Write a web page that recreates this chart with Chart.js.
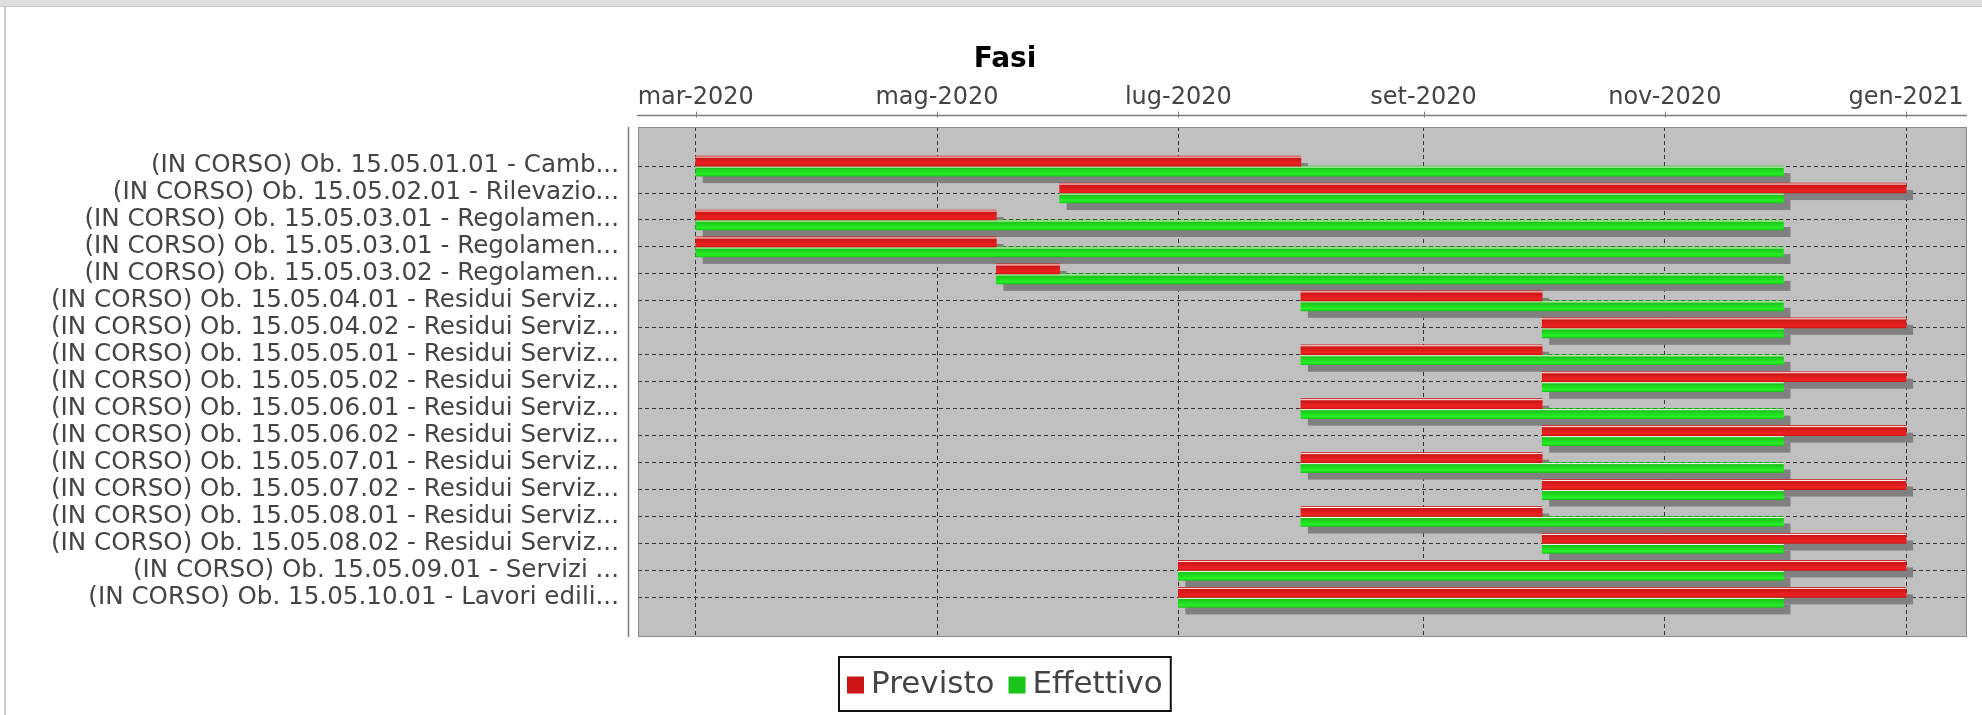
<!DOCTYPE html>
<html>
<head>
<meta charset="utf-8">
<script src="https://cdn.jsdelivr.net/npm/chart.js@4/dist/chart.umd.min.js"></script>
<style>
html,body{margin:0;padding:0;background:#fff;overflow:hidden;width:1982px;height:715px;}
#frameTop{position:absolute;left:0;top:0;width:1982px;height:6px;background:#dedede;border-bottom:1px solid #c6c6c6;}
#frameLeft{position:absolute;left:4px;top:7px;width:2px;height:708px;background:#cbcbcb;}
#wrap{position:absolute;left:6px;top:8px;width:1998px;height:707px;}
</style>
</head>
<body>
<div id="frameTop"></div>
<div id="frameLeft"></div>
<div id="wrap"><canvas id="c" width="1998" height="707"></canvas></div>
<script>
// ---------------- data ----------------
const categories = [
  '(IN CORSO) Ob. 15.05.01.01 - Camb...',
  '(IN CORSO) Ob. 15.05.02.01 - Rilevazio...',
  '(IN CORSO) Ob. 15.05.03.01 - Regolamen...',
  '(IN CORSO) Ob. 15.05.03.01 - Regolamen...',
  '(IN CORSO) Ob. 15.05.03.02 - Regolamen...',
  '(IN CORSO) Ob. 15.05.04.01 - Residui Serviz...',
  '(IN CORSO) Ob. 15.05.04.02 - Residui Serviz...',
  '(IN CORSO) Ob. 15.05.05.01 - Residui Serviz...',
  '(IN CORSO) Ob. 15.05.05.02 - Residui Serviz...',
  '(IN CORSO) Ob. 15.05.06.01 - Residui Serviz...',
  '(IN CORSO) Ob. 15.05.06.02 - Residui Serviz...',
  '(IN CORSO) Ob. 15.05.07.01 - Residui Serviz...',
  '(IN CORSO) Ob. 15.05.07.02 - Residui Serviz...',
  '(IN CORSO) Ob. 15.05.08.01 - Residui Serviz...',
  '(IN CORSO) Ob. 15.05.08.02 - Residui Serviz...',
  '(IN CORSO) Ob. 15.05.09.01 - Servizi ...',
  '(IN CORSO) Ob. 15.05.10.01 - Lavori edili...'
];
const previstoStart = ['2020-03-01','2020-06-01','2020-03-01','2020-03-01','2020-05-16','2020-08-01','2020-10-01','2020-08-01','2020-10-01','2020-08-01','2020-10-01','2020-08-01','2020-10-01','2020-08-01','2020-10-01','2020-07-01','2020-07-01'];
const previstoEnd   = ['2020-08-01','2021-01-01','2020-05-16','2020-05-16','2020-06-01','2020-10-01','2021-01-01','2020-10-01','2021-01-01','2020-10-01','2021-01-01','2020-10-01','2021-01-01','2020-10-01','2021-01-01','2021-01-01','2021-01-01'];
const effettivoStart = ['2020-03-01','2020-06-01','2020-03-01','2020-03-01','2020-05-16','2020-08-01','2020-10-01','2020-08-01','2020-10-01','2020-08-01','2020-10-01','2020-08-01','2020-10-01','2020-08-01','2020-10-01','2020-07-01','2020-07-01'];
const effettivoEnd   = ['2020-12-01','2020-12-01','2020-12-01','2020-12-01','2020-12-01','2020-12-01','2020-12-01','2020-12-01','2020-12-01','2020-12-01','2020-12-01','2020-12-01','2020-12-01','2020-12-01','2020-12-01','2020-12-01','2020-12-01'];
const seriesNames = ['Previsto', 'Effettivo'];
const tickDates  = ['2020-03-01','2020-05-01','2020-07-01','2020-09-01','2020-11-01','2021-01-01'];
const tickLabels = ['mar-2020','mag-2020','lug-2020','set-2020','nov-2020','gen-2021'];
const chartTitle = 'Fasi';

// ---------------- helpers ----------------
const DAY = 86400000;
const ts = s => Date.parse(s + 'T00:00:00Z');
const FONT = '"DejaVu Sans", Verdana, sans-serif';
Chart.defaults.font.family = FONT;

const palette = [
  {base: 'rgb(204,22,22)', bright: 'rgb(238,34,34)'},
  {base: 'rgb(26,196,26)', bright: 'rgb(38,240,38)'}
];
const BAR = 10;

function gradientFill(dsIndex) {
  const p = palette[dsIndex];
  return (c) => {
    if (c.type !== 'data') return p.base;
    const chart = c.chart;
    let top = NaN, h = NaN;
    const el = c.element;
    if (el && isFinite(el.y) && isFinite(el.height) && el.height > 0) {
      top = el.y - el.height / 2; h = el.height;
    } else {
      const ys = chart.scales && chart.scales.y;
      if (ys && c.parsed && isFinite(c.parsed.y)) {
        const center = ys.getPixelForValue(c.parsed.y);
        top = center - BAR + dsIndex * BAR; h = BAR;
      }
    }
    if (!isFinite(top) || !isFinite(h)) return p.base;
    const g = chart.ctx.createLinearGradient(0, top, 0, top + h);
    g.addColorStop(0, p.base);
    g.addColorStop(0.1, '#fff4f0');
    g.addColorStop(0.2, p.base);
    g.addColorStop(0.8, p.bright);
    g.addColorStop(1, p.base);
    return g;
  };
}

function makeData(starts, ends) {
  return categories.map((_, i) => ({x: [ts(starts[i]), ts(ends[i])], y: i}));
}

// ---------------- plugins ----------------
const plotPlugin = {
  id: 'plotDecor',
  beforeDraw(chart) {
    const {ctx, chartArea: a} = chart;
    ctx.save();
    ctx.fillStyle = '#c0c0c0';
    ctx.fillRect(a.left, a.top, a.right - a.left, a.bottom - a.top);
    ctx.restore();
  },
  beforeDatasetsDraw(chart) {
    const ctx = chart.ctx;
    const a = chart.chartArea;
    ctx.save();
    ctx.beginPath();
    ctx.rect(a.left, a.top, a.right - a.left, a.bottom - a.top);
    ctx.clip();
    ctx.fillStyle = '#808080';
    chart.data.datasets.forEach((ds, di) => {
      const meta = chart.getDatasetMeta(di);
      meta.data.forEach(el => {
        const {x, y, base, height} = el.getProps(['x', 'y', 'base', 'height'], true);
        if (![x, y, base, height].every(isFinite)) return;
        const l = Math.min(x, base), r = Math.max(x, base);
        ctx.fillRect(l + 7, y - height / 2 + 7, r - l, height);
      });
    });
    ctx.restore();
  },
  afterDraw(chart) {
    const {ctx, chartArea: a} = chart;
    const xs = chart.scales.x;
    ctx.save();
    ctx.setLineDash([]);
    // plot outline
    ctx.strokeStyle = '#8a8a8a';
    ctx.lineWidth = 1;
    ctx.strokeRect(a.left + 0.5, a.top + 0.5, a.right - a.left - 1, a.bottom - a.top - 1);
    // date axis line + tick marks
    const ay = a.top - 11.5;
    ctx.strokeStyle = '#7c7c7c';
    ctx.lineWidth = 1.5;
    ctx.beginPath();
    ctx.moveTo(a.left - 1, ay);
    ctx.lineTo(a.right, ay);
    ctx.stroke();
    ctx.lineWidth = 1;
    xs.ticks.forEach(t => {
      const px = Math.round(xs.getPixelForValue(t.value)) + 0.5;
      ctx.beginPath();
      ctx.moveTo(px, ay - 4);
      ctx.lineTo(px, ay + 2);
      ctx.stroke();
    });
    // category axis line
    ctx.lineWidth = 1.5;
    ctx.beginPath();
    ctx.moveTo(a.left - 9.5, a.top);
    ctx.lineTo(a.left - 9.5, a.bottom);
    ctx.stroke();
    // legend
    ctx.font = '31px ' + FONT;
    ctx.textBaseline = 'middle';
    ctx.textAlign = 'left';
    const pad = 9, sq = 17, gap = 7, itemGap = 14;
    const items = chart.data.datasets.map((ds, i) => ({text: ds.label, color: palette[i].base, w: ctx.measureText(ds.label).width}));
    let total = pad * 2 + itemGap * (items.length - 1);
    items.forEach(it => total += sq + gap + it.w);
    const lx = Math.round(chart.width / 2 - total / 2);
    const ly = Math.round(a.bottom + 19);
    const lh = 56;
    ctx.strokeStyle = '#111';
    ctx.lineWidth = 2;
    ctx.strokeRect(lx + 1, ly + 1, total - 2, lh - 2);
    let cx = lx + pad;
    const cy = ly + lh / 2 + 1;
    items.forEach(it => {
      ctx.fillStyle = it.color;
      ctx.fillRect(cx, cy - sq / 2, sq, sq);
      cx += sq + gap;
      ctx.fillStyle = '#444';
      ctx.fillText(it.text, cx, cy);
      cx += it.w + itemGap;
    });
    ctx.restore();
  }
};

// ---------------- chart ----------------
const xMin = ts(tickDates[0]) - 14.6 * DAY;
const xMax = ts(tickDates[tickDates.length - 1]) + 15.4 * DAY;

const chart = new Chart(document.getElementById('c'), {
  type: 'bar',
  data: {
    datasets: [
      {label: seriesNames[0], data: makeData(previstoStart, previstoEnd), backgroundColor: gradientFill(0), borderWidth: 0, barThickness: BAR},
      {label: seriesNames[1], data: makeData(effettivoStart, effettivoEnd), backgroundColor: gradientFill(1), borderWidth: 0, barThickness: BAR}
    ]
  },
  options: {
    responsive: false,
    animation: false,
    devicePixelRatio: 1,
    indexAxis: 'y',
    layout: {padding: {left: 37, right: 37, top: 0, bottom: 78}},
    plugins: {
      legend: {display: false},
      tooltip: {enabled: false},
      title: {
        display: true, text: chartTitle, color: '#000',
        font: {size: 28, weight: 'bold', family: FONT},
        padding: {top: 35, bottom: 0}
      }
    },
    scales: {
      x: {
        type: 'linear', position: 'top', min: xMin, max: xMax, bounds: 'data', offset: false,
        afterBuildTicks: s => { s.ticks = tickDates.map(d => ({value: ts(d)})); },
        afterFit: s => { s.height = 119 - (28 * 1.2 + 35); },
        ticks: {autoSkip: false, maxRotation: 0, padding: 17, color: '#444', font: {size: 24, lineHeight: 1},
          callback: (v, i) => tickLabels[i]},
        grid: {color: '#333', lineWidth: 1, drawTicks: false, offset: false},
        border: {display: false, dash: [4, 3]}
      },
      y: {
        type: 'linear', reverse: true, min: -1.45, max: categories.length - 1 + 1.47, bounds: 'data', offset: false,
        afterBuildTicks: s => { s.ticks = categories.map((_, i) => ({value: i})); },
        afterFit: s => { s.width = 632 - 37; },
        ticks: {autoSkip: false, padding: 19, color: '#444', font: {size: 24.6, lineHeight: 1},
          callback: (v) => categories[v]},
        grid: {color: '#333', lineWidth: 1, drawTicks: false, offset: false},
        border: {display: false, dash: [4, 3]}
      }
    }
  },
  plugins: [plotPlugin]
});
chart.update();
</script>
</body>
</html>
